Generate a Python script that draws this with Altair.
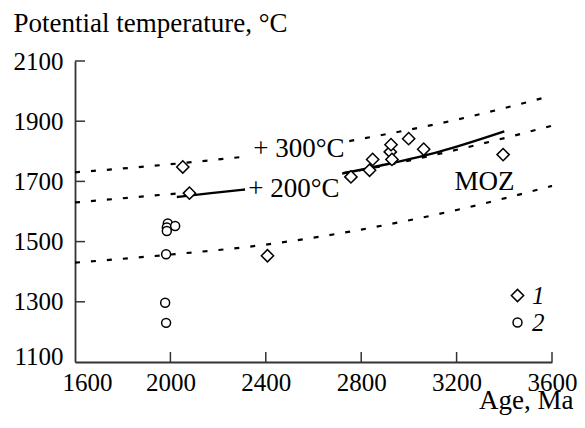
import altair as alt
import pandas as pd

FONT = "Liberation Serif"

# Dashed model curves, split where labels interrupt them
upper_a_x = [1600, 2000, 2310]
upper_a_y = [1730, 1757, 1782]
upper_b_x = [2750, 3200, 3600]
upper_b_y = [1834, 1905, 1985]
middle_a_x = [1600, 2030]
middle_a_y = [1630, 1660]
middle_b_x = [2725, 2800, 3200, 3600]
middle_b_y = [1728, 1738, 1805, 1885]
lower_x = [1600, 2000, 2400, 2800, 3200, 3600]
lower_y = [1430, 1457, 1490, 1540, 1605, 1685]

# Solid segments
solid_a_x = [2027, 2170, 2313]
solid_a_y = [1648, 1661, 1673]
solid_b_x = [2720, 2908, 3125, 3400]
solid_b_y = [1726, 1757, 1798, 1866]

# Series 1 (diamonds)
ages1 = [2052, 2080, 2407, 2757, 2835, 2848, 2922, 2925, 2929, 2999, 3062, 3395]
temps1 = [1748, 1661, 1453, 1715, 1737, 1773, 1798, 1822, 1773, 1842, 1807, 1789]
# Series 2 (circles)
ages2 = [1982, 1989, 1985, 1985, 2020, 1978, 1982]
temps2 = [1458, 1560, 1547, 1535, 1552, 1297, 1230]

# Annotations
ann_text = ["+ 300°C", "+ 200°C", "MOZ"]
ann_x = [2347, 2326, 3191]
ann_y = [1781, 1648, 1670]

x_ticks = [2000, 2400, 2800, 3200, 3600]
y_ticks = [1300, 1500, 1700, 1900, 2100]

def seg_df(xs, ys, name):
    return pd.DataFrame({"age": xs, "temp": ys, "seg": name})

dashed = pd.concat([
    seg_df(upper_a_x, upper_a_y, "ua"), seg_df(upper_b_x, upper_b_y, "ub"),
    seg_df(middle_a_x, middle_a_y, "ma"), seg_df(middle_b_x, middle_b_y, "mb"),
    seg_df(lower_x, lower_y, "l"),
])
solid = pd.concat([seg_df(solid_a_x, solid_a_y, "sa"), seg_df(solid_b_x, solid_b_y, "sb")])
pts = pd.concat([
    pd.DataFrame({"age": ages1, "temp": temps1, "series": "1"}),
    pd.DataFrame({"age": ages2, "temp": temps2, "series": "2"}),
])
ann = pd.DataFrame({"label": ann_text, "age": ann_x, "temp": ann_y})

xscale = alt.Scale(domain=[1600, 3600], nice=False)
yscale = alt.Scale(domain=[1100, 2100], nice=False)

xaxis = alt.Axis(
    values=[1600] + x_ticks, format="d", labelPadding=8, labelFlush=False,
    labelOverlap=False,
    labelOffset={"condition": {"test": "datum.value == 1600", "value": 12}, "value": 0},
    title="Age, Ma", titleAlign="right", titleBaseline="alphabetic",
    titleX=498, titleY=46,
)
yaxis = alt.Axis(
    values=[1100] + y_ticks, format="d", labelPadding=12, labelFlush=False,
    labelOverlap=False,
    labelOffset={"condition": {"test": "datum.value == 1100", "value": -6}, "value": 0},
    title="Potential temperature, °C", titleAngle=0,
    titleAlign="left", titleBaseline="alphabetic", titleX=-62, titleY=-30,
)

X = alt.X("age:Q", scale=xscale, axis=xaxis)
Y = alt.Y("temp:Q", scale=yscale, axis=yaxis)

dash_layer = alt.Chart(dashed).mark_line(
    color="black", strokeWidth=2.2, strokeDash=[5, 11], interpolate="monotone"
).encode(x=X, y=Y, detail="seg:N")

solid_layer = alt.Chart(solid).mark_line(
    color="black", strokeWidth=2.4, interpolate="monotone"
).encode(x="age:Q", y="temp:Q", detail="seg:N")

xt_layer = alt.Chart(pd.DataFrame({"age": x_ticks})).mark_rule(
    color="#333", strokeWidth=1.5
).encode(x="age:Q", y=alt.value(301), y2=alt.value(291))
yt_layer = alt.Chart(pd.DataFrame({"temp": y_ticks})).mark_rule(
    color="#333", strokeWidth=1.5
).encode(y="temp:Q", x=alt.value(0), x2=alt.value(10))

ser_dom = ["1", "2"]
point_layer = alt.Chart(pts).mark_point(
    filled=False, fill="white", strokeWidth=1.5, opacity=1
).encode(
    x="age:Q", y="temp:Q",
    shape=alt.Shape("series:N", scale=alt.Scale(domain=ser_dom, range=["diamond", "circle"]),
                    legend=alt.Legend(title=None)),
    size=alt.Size("series:N", scale=alt.Scale(domain=ser_dom, range=[150, 80]),
                  legend=alt.Legend(title=None)),
    stroke=alt.Stroke("series:N", scale=alt.Scale(domain=ser_dom, range=["black", "black"]),
                      legend=alt.Legend(title=None)),
)

text_layer = alt.Chart(ann).mark_text(
    font=FONT, fontSize=27, color="black", align="left", baseline="alphabetic"
).encode(x="age:Q", y="temp:Q", text="label:N")

chart = alt.layer(dash_layer, solid_layer, xt_layer, yt_layer, point_layer, text_layer).properties(
    width=477, height=301,
    autosize=alt.AutoSizeParams(type="none"),
    padding={"left": 67, "top": 53, "right": 25, "bottom": 58},
).configure_view(stroke=None).configure_axis(
    grid=False, ticks=False, tickSize=0, labelBound=False,
    labelFont=FONT, labelFontSize=25, labelColor="black",
    domainColor="#333", domainWidth=1.8,
    titleFont=FONT, titleFontSize=27, titleFontWeight="normal", titleColor="black",
).configure_legend(
    orient="none", legendX=430, legendY=222, padding=0,
    labelFont=FONT, labelFontSize=25, labelFontStyle="italic", labelColor="black",
    labelOffset=2, rowPadding=1,
    symbolStrokeWidth=1.5, symbolFillColor="white",
)

chart.save("out.html", embed_options={"renderer": "svg", "actions": False})
